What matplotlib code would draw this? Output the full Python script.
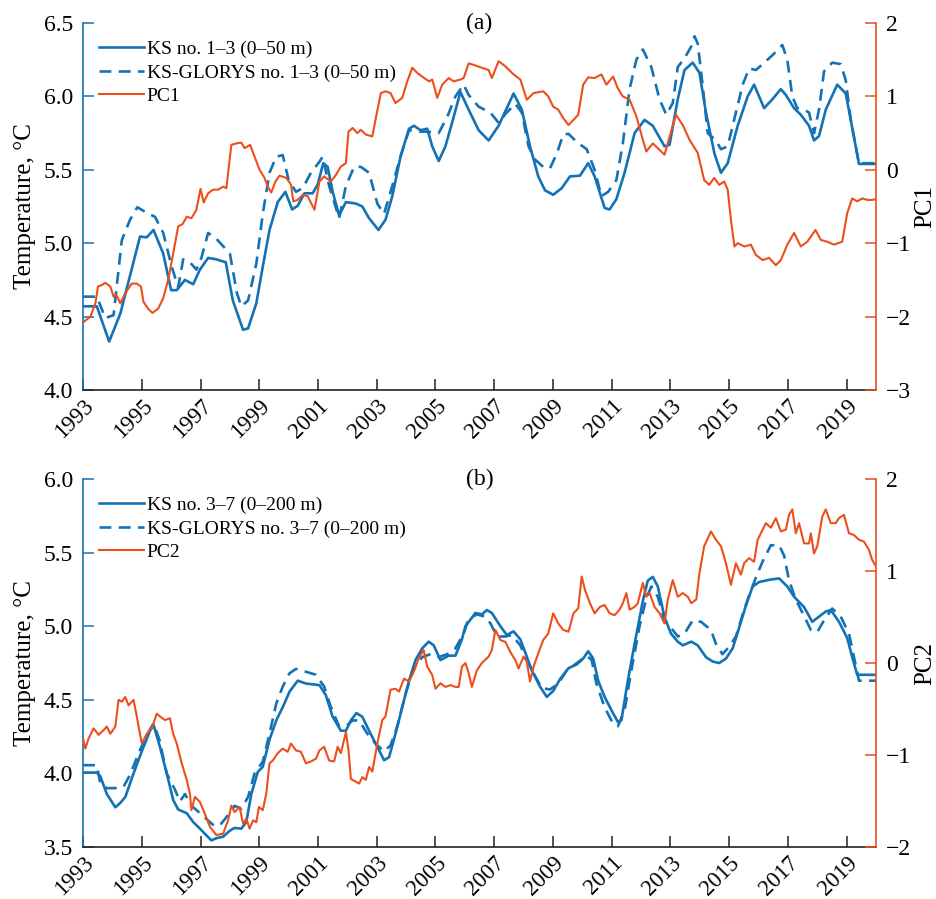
import matplotlib
matplotlib.use("Agg")
import matplotlib.pyplot as plt
import numpy as np

plt.rcParams['font.family'] = ['Liberation Serif', 'DejaVu Serif']
plt.rcParams['mathtext.fontset'] = 'stix'

BLUE = '#1372B6'
RED = '#EC4E1C'

# ---------------- Panel (a) data: (year, value) ----------------
ks_a = [(1993.0, 4.57), (1993.47, 4.57), (1993.89, 4.33), (1994.27, 4.52), (1994.94, 5.045), (1995.17, 5.04),
        (1995.4, 5.09), (1995.73, 4.93), (1996.0, 4.68), (1996.19, 4.68), (1996.47, 4.75), (1996.75, 4.72),
        (1996.98, 4.82), (1997.26, 4.9), (1997.54, 4.89), (1997.86, 4.87), (1998.1, 4.61), (1998.45, 4.41),
        (1998.62, 4.42), (1998.9, 4.59), (1999.12, 4.84), (1999.35, 5.09), (1999.63, 5.28), (1999.89, 5.35),
        (2000.12, 5.23), (2000.31, 5.255), (2000.54, 5.34), (2000.82, 5.34), (2000.99, 5.40), (2001.18, 5.545),
        (2001.33, 5.52), (2001.5, 5.35), (2001.72, 5.19), (2001.95, 5.28), (2002.29, 5.27), (2002.51, 5.25),
        (2002.74, 5.17), (2003.06, 5.09), (2003.3, 5.16), (2003.53, 5.32), (2003.81, 5.59), (2004.1, 5.78),
        (2004.27, 5.80), (2004.49, 5.77), (2004.72, 5.78), (2004.89, 5.66), (2005.11, 5.56), (2005.34, 5.66),
        (2005.62, 5.86), (2005.85, 6.03), (2006.13, 5.91), (2006.47, 5.77), (2006.81, 5.70), (2007.15, 5.80),
        (2007.66, 6.02), (2007.94, 5.91), (2008.22, 5.66), (2008.5, 5.455), (2008.73, 5.36), (2009.01, 5.33),
        (2009.3, 5.375), (2009.58, 5.455), (2009.92, 5.46), (2010.2, 5.545), (2010.42, 5.455), (2010.76, 5.24),
        (2010.93, 5.23), (2011.16, 5.30), (2011.44, 5.48), (2011.78, 5.75), (2012.12, 5.84), (2012.4, 5.80),
        (2012.8, 5.66), (2012.97, 5.67), (2013.25, 5.98), (2013.48, 6.18), (2013.76, 6.23), (2013.99, 6.16),
        (2014.21, 5.89), (2014.5, 5.61), (2014.72, 5.48), (2014.95, 5.545), (2015.29, 5.80), (2015.63, 6.0),
        (2015.85, 6.08), (2016.19, 5.92), (2016.47, 5.98), (2016.76, 6.05), (2016.93, 6.01), (2017.21, 5.92),
        (2017.44, 5.875), (2017.72, 5.80), (2017.89, 5.70), (2018.06, 5.73), (2018.29, 5.91), (2018.68, 6.08),
        (2018.97, 6.02), (2019.14, 5.84), (2019.42, 5.54), (2020.0, 5.54)]

glorys_a = [(1993.0, 4.636), (1993.47, 4.636), (1993.76, 4.49), (1994.04, 4.51), (1994.32, 5.02), (1994.6, 5.16),
            (1994.85, 5.245), (1995.23, 5.20), (1995.45, 5.18), (1995.73, 5.07), (1996.02, 4.84), (1996.24, 4.70),
            (1996.41, 4.89), (1996.64, 4.87), (1996.86, 4.82), (1997.03, 4.90), (1997.26, 5.07), (1997.54, 5.03),
            (1998.0, 4.93), (1998.24, 4.66), (1998.39, 4.57), (1998.62, 4.61), (1998.9, 4.86), (1999.12, 5.20),
            (1999.35, 5.48), (1999.58, 5.59), (1999.8, 5.60), (2000.0, 5.43), (2000.25, 5.35), (2000.48, 5.375),
            (2000.76, 5.48), (2001.05, 5.555), (2001.16, 5.59), (2001.38, 5.39), (2001.72, 5.17), (2001.95, 5.39),
            (2002.23, 5.52), (2002.46, 5.52), (2002.74, 5.48), (2003.02, 5.27), (2003.25, 5.20), (2003.53, 5.39),
            (2003.81, 5.59), (2004.1, 5.77), (2004.44, 5.76), (2004.72, 5.76), (2005.11, 5.75), (2005.4, 5.86),
            (2005.68, 6.0), (2005.96, 6.08), (2006.13, 6.01), (2006.47, 5.93), (2006.87, 5.89), (2007.15, 5.82),
            (2007.38, 5.88), (2007.72, 5.95), (2007.94, 5.89), (2008.17, 5.66), (2008.39, 5.57), (2008.67, 5.52),
            (2008.9, 5.51), (2009.13, 5.61), (2009.35, 5.74), (2009.53, 5.745), (2009.81, 5.69), (2010.15, 5.64),
            (2010.42, 5.50), (2010.65, 5.32), (2010.88, 5.35), (2011.16, 5.43), (2011.38, 5.68), (2011.61, 6.05),
            (2011.84, 6.25), (2012.06, 6.32), (2012.35, 6.20), (2012.63, 5.98), (2012.86, 5.875), (2013.08, 5.955),
            (2013.25, 6.20), (2013.48, 6.26), (2013.71, 6.34), (2013.82, 6.41), (2013.93, 6.36), (2014.1, 6.07),
            (2014.27, 5.75), (2014.55, 5.70), (2014.72, 5.64), (2014.95, 5.66), (2015.23, 5.89), (2015.46, 6.08),
            (2015.68, 6.19), (2015.91, 6.18), (2016.14, 6.22), (2016.47, 6.28), (2016.81, 6.35), (2016.98, 6.25),
            (2017.15, 6.0), (2017.32, 5.92), (2017.55, 5.91), (2017.72, 5.89), (2017.89, 5.75), (2018.06, 5.91),
            (2018.23, 6.17), (2018.51, 6.23), (2018.8, 6.22), (2018.97, 6.11), (2019.14, 5.84), (2019.42, 5.545),
            (2020.0, 5.545)]

pc1 = [(1993.0, -2.08), (1993.25, -2.0), (1993.42, -1.82), (1993.51, -1.59), (1993.64, -1.57), (1993.76, -1.54),
       (1993.93, -1.59), (1994.04, -1.73), (1994.13, -1.70), (1994.27, -1.82), (1994.44, -1.68), (1994.66, -1.55),
       (1994.83, -1.55), (1994.97, -1.59), (1995.06, -1.80), (1995.23, -1.9), (1995.37, -1.95), (1995.56, -1.89),
       (1995.73, -1.75), (1995.9, -1.5), (1996.07, -1.14), (1996.24, -0.77), (1996.39, -0.74), (1996.53, -0.64),
       (1996.69, -0.66), (1996.86, -0.545), (1997.0, -0.26), (1997.11, -0.445), (1997.26, -0.32), (1997.43, -0.27),
       (1997.6, -0.27), (1997.77, -0.23), (1997.88, -0.25), (1998.05, 0.34), (1998.22, 0.36), (1998.39, 0.37),
       (1998.5, 0.295), (1998.69, 0.34), (1998.84, 0.18), (1999.01, 0.0), (1999.18, -0.11), (1999.29, -0.23),
       (1999.41, -0.31), (1999.55, -0.16), (1999.69, -0.08), (1999.92, -0.11), (2000.08, -0.2), (2000.16, -0.43),
       (2000.31, -0.41), (2000.48, -0.34), (2000.65, -0.36), (2000.88, -0.545), (2001.05, -0.16), (2001.21, -0.09),
       (2001.44, -0.16), (2001.61, -0.07), (2001.78, 0.045), (2001.95, 0.09), (2002.04, 0.52), (2002.18, 0.57),
       (2002.34, 0.5), (2002.46, 0.545), (2002.63, 0.48), (2002.85, 0.455), (2002.97, 0.705), (2003.14, 1.045),
       (2003.3, 1.07), (2003.47, 1.045), (2003.64, 0.91), (2003.87, 0.98), (2004.04, 1.205), (2004.21, 1.39),
       (2004.38, 1.32), (2004.55, 1.27), (2004.78, 1.205), (2004.89, 1.23), (2005.06, 0.98), (2005.23, 1.16),
       (2005.45, 1.25), (2005.62, 1.205), (2005.85, 1.23), (2005.96, 1.25), (2006.13, 1.45), (2006.3, 1.43),
       (2006.58, 1.39), (2006.81, 1.36), (2006.92, 1.25), (2007.15, 1.48), (2007.38, 1.41), (2007.66, 1.30),
       (2007.89, 1.23), (2008.11, 0.955), (2008.34, 1.045), (2008.67, 1.07), (2008.84, 1.0), (2009.01, 0.86),
       (2009.18, 0.82), (2009.35, 0.705), (2009.53, 0.61), (2009.7, 0.68), (2009.86, 0.75), (2010.03, 1.16),
       (2010.2, 1.26), (2010.42, 1.25), (2010.65, 1.30), (2010.82, 1.16), (2011.05, 1.27), (2011.21, 1.11),
       (2011.38, 1.0), (2011.61, 0.955), (2011.84, 0.73), (2012.06, 0.41), (2012.18, 0.25), (2012.4, 0.36),
       (2012.57, 0.295), (2012.8, 0.205), (2013.02, 0.52), (2013.19, 0.75), (2013.42, 0.61), (2013.65, 0.41),
       (2013.93, 0.23), (2014.15, -0.14), (2014.32, -0.205), (2014.49, -0.11), (2014.66, -0.205), (2014.83, -0.16),
       (2014.95, -0.27), (2015.06, -0.68), (2015.18, -1.045), (2015.29, -1.0), (2015.52, -1.045), (2015.74, -1.02),
       (2015.91, -1.16), (2016.14, -1.23), (2016.36, -1.2), (2016.59, -1.30), (2016.76, -1.23), (2016.98, -1.02),
       (2017.21, -0.86), (2017.44, -1.045), (2017.66, -0.98), (2017.94, -0.82), (2018.12, -0.955), (2018.34, -0.98),
       (2018.57, -1.02), (2018.85, -0.98), (2019.02, -0.59), (2019.19, -0.39), (2019.36, -0.43), (2019.53, -0.39),
       (2019.7, -0.41), (2019.87, -0.41), (2020.0, -0.40)]

# ---------------- Panel (b) data: (year, value) ----------------
ks_b = [(1993.0, 4.006), (1993.47, 4.006), (1993.59, 3.98), (1993.81, 3.86), (1994.1, 3.77), (1994.27, 3.80),
        (1994.44, 3.84), (1994.72, 4.0), (1995.0, 4.15), (1995.28, 4.29), (1995.4, 4.33), (1995.62, 4.18),
        (1995.85, 4.0), (1996.07, 3.82), (1996.24, 3.755), (1996.53, 3.73), (1996.75, 3.67), (1996.98, 3.625),
        (1997.15, 3.59), (1997.37, 3.545), (1997.54, 3.56), (1997.77, 3.57), (1997.99, 3.61), (1998.16, 3.63),
        (1998.39, 3.625), (1998.56, 3.67), (1998.73, 3.86), (1998.95, 4.01), (1999.12, 4.045), (1999.35, 4.23),
        (1999.58, 4.36), (1999.8, 4.45), (2000.03, 4.555), (2000.31, 4.63), (2000.6, 4.61), (2001.05, 4.60),
        (2001.27, 4.53), (2001.5, 4.385), (2001.78, 4.29), (2001.95, 4.29), (2002.12, 4.36), (2002.31, 4.41),
        (2002.51, 4.385), (2002.74, 4.29), (2003.02, 4.18), (2003.25, 4.09), (2003.42, 4.11), (2003.64, 4.27),
        (2003.87, 4.45), (2004.1, 4.63), (2004.32, 4.77), (2004.55, 4.85), (2004.77, 4.895), (2004.94, 4.87),
        (2005.17, 4.77), (2005.45, 4.80), (2005.68, 4.80), (2005.9, 4.91), (2006.02, 5.0), (2006.36, 5.09),
        (2006.58, 5.08), (2006.75, 5.11), (2006.92, 5.09), (2007.21, 5.0), (2007.43, 4.94), (2007.66, 4.965),
        (2007.89, 4.91), (2008.06, 4.82), (2008.28, 4.70), (2008.56, 4.59), (2008.79, 4.52), (2009.01, 4.56),
        (2009.24, 4.64), (2009.53, 4.715), (2009.81, 4.74), (2010.03, 4.78), (2010.2, 4.83), (2010.37, 4.78),
        (2010.54, 4.63), (2010.76, 4.52), (2010.99, 4.43), (2011.21, 4.35), (2011.33, 4.36), (2011.55, 4.63),
        (2011.78, 4.88), (2012.06, 5.17), (2012.23, 5.31), (2012.4, 5.335), (2012.57, 5.27), (2012.8, 5.06),
        (2013.02, 4.95), (2013.25, 4.895), (2013.42, 4.87), (2013.71, 4.895), (2013.93, 4.87), (2014.21, 4.79),
        (2014.44, 4.76), (2014.66, 4.75), (2014.89, 4.78), (2015.12, 4.85), (2015.34, 4.99), (2015.57, 5.14),
        (2015.8, 5.27), (2016.02, 5.30), (2016.36, 5.315), (2016.7, 5.325), (2016.98, 5.27), (2017.21, 5.20),
        (2017.55, 5.13), (2017.83, 5.03), (2018.06, 5.065), (2018.29, 5.10), (2018.46, 5.11), (2018.74, 5.03),
        (2019.02, 4.92), (2019.19, 4.79), (2019.36, 4.67), (2020.0, 4.67)]

glorys_b = [(1993.0, 4.056), (1993.47, 4.056), (1993.59, 3.93), (1993.81, 3.90), (1994.1, 3.90), (1994.38, 3.91),
            (1994.6, 3.99), (1994.94, 4.16), (1995.23, 4.28), (1995.4, 4.34), (1995.6, 4.23), (1995.85, 4.0),
            (1996.13, 3.89), (1996.3, 3.81), (1996.47, 3.86), (1996.7, 3.78), (1996.98, 3.73), (1997.26, 3.68),
            (1997.49, 3.64), (1997.71, 3.66), (1997.99, 3.73), (1998.16, 3.78), (1998.39, 3.76), (1998.62, 3.84),
            (1998.84, 4.0), (1999.12, 4.08), (1999.35, 4.27), (1999.58, 4.475), (1999.8, 4.59), (2000.03, 4.68),
            (2000.25, 4.71), (2000.6, 4.69), (2000.93, 4.67), (2001.21, 4.59), (2001.44, 4.45), (2001.72, 4.32),
            (2001.95, 4.32), (2002.18, 4.36), (2002.4, 4.36), (2002.68, 4.27), (2002.97, 4.20), (2003.25, 4.15),
            (2003.47, 4.19), (2003.7, 4.32), (2003.98, 4.54), (2004.27, 4.72), (2004.55, 4.79), (2004.83, 4.81),
            (2005.11, 4.79), (2005.4, 4.81), (2005.68, 4.85), (2005.96, 4.95), (2006.13, 5.05), (2006.41, 5.08),
            (2006.7, 5.065), (2006.87, 5.02), (2007.1, 4.93), (2007.38, 4.93), (2007.6, 4.94), (2007.89, 4.87),
            (2008.11, 4.77), (2008.34, 4.68), (2008.62, 4.58), (2008.9, 4.57), (2009.18, 4.61), (2009.47, 4.70),
            (2009.75, 4.74), (2010.15, 4.80), (2010.32, 4.77), (2010.48, 4.61), (2010.76, 4.45), (2010.99, 4.36),
            (2011.21, 4.32), (2011.44, 4.43), (2011.67, 4.70), (2011.95, 5.0), (2012.18, 5.19), (2012.35, 5.27),
            (2012.57, 5.20), (2012.8, 5.04), (2013.02, 4.99), (2013.25, 4.93), (2013.48, 4.95), (2013.76, 5.04),
            (2014.04, 5.03), (2014.38, 4.975), (2014.55, 4.88), (2014.77, 4.81), (2015.0, 4.86), (2015.23, 4.93),
            (2015.46, 5.08), (2015.68, 5.21), (2015.91, 5.33), (2016.14, 5.44), (2016.42, 5.55), (2016.7, 5.55),
            (2016.87, 5.48), (2017.04, 5.31), (2017.27, 5.18), (2017.55, 5.07), (2017.78, 4.975), (2018.0, 4.96),
            (2018.23, 5.04), (2018.51, 5.12), (2018.8, 5.065), (2019.08, 4.95), (2019.25, 4.79), (2019.42, 4.63),
            (2020.0, 4.63)]

pc2 = [(1993.0, -0.82), (1993.08, -0.93), (1993.19, -0.82), (1993.36, -0.71), (1993.53, -0.78), (1993.7, -0.73),
       (1993.81, -0.69), (1993.93, -0.77), (1994.1, -0.69), (1994.21, -0.40), (1994.32, -0.42), (1994.44, -0.37),
       (1994.55, -0.46), (1994.72, -0.40), (1994.83, -0.58), (1995.0, -0.875), (1995.17, -0.77), (1995.34, -0.71),
       (1995.51, -0.55), (1995.62, -0.58), (1995.79, -0.62), (1995.96, -0.60), (1996.07, -0.77), (1996.19, -0.875),
       (1996.36, -1.09), (1996.53, -1.27), (1996.64, -1.42), (1996.69, -1.60), (1996.81, -1.455), (1996.98, -1.51),
       (1997.15, -1.64), (1997.32, -1.78), (1997.54, -1.87), (1997.77, -1.855), (1997.94, -1.71), (1998.05, -1.55),
       (1998.16, -1.62), (1998.33, -1.565), (1998.45, -1.745), (1998.56, -1.69), (1998.67, -1.80), (1998.79, -1.71),
       (1998.9, -1.73), (1998.99, -1.565), (1999.12, -1.60), (1999.24, -1.42), (1999.35, -1.09), (1999.46, -1.06),
       (1999.63, -0.98), (1999.8, -0.93), (1999.97, -0.965), (2000.08, -0.875), (2000.25, -0.95), (2000.42, -0.965),
       (2000.59, -1.09), (2000.76, -1.07), (2000.93, -1.04), (2001.05, -0.95), (2001.21, -0.91), (2001.38, -1.06),
       (2001.55, -1.07), (2001.67, -0.91), (2001.78, -0.98), (2001.95, -0.75), (2002.04, -0.95), (2002.12, -1.26),
       (2002.29, -1.29), (2002.4, -1.31), (2002.51, -1.24), (2002.63, -1.27), (2002.74, -1.13), (2002.85, -1.18),
       (2003.02, -0.875), (2003.19, -0.62), (2003.3, -0.58), (2003.47, -0.29), (2003.64, -0.28), (2003.76, -0.31),
       (2003.93, -0.17), (2004.1, -0.20), (2004.27, -0.09), (2004.43, 0.05), (2004.6, 0.14), (2004.72, -0.04),
       (2004.89, -0.13), (2005.0, -0.28), (2005.17, -0.22), (2005.34, -0.26), (2005.51, -0.24), (2005.68, -0.26),
       (2005.79, -0.26), (2005.9, -0.04), (2006.02, 0.0), (2006.13, -0.11), (2006.24, -0.26), (2006.41, -0.08),
       (2006.58, 0.0), (2006.81, 0.07), (2006.92, 0.14), (2007.04, 0.36), (2007.21, 0.25), (2007.38, 0.23),
       (2007.55, 0.12), (2007.72, 0.03), (2007.83, -0.06), (2008.0, 0.07), (2008.11, 0.015), (2008.22, -0.20),
       (2008.34, -0.04), (2008.5, 0.105), (2008.67, 0.25), (2008.84, 0.32), (2009.01, 0.54), (2009.18, 0.43),
       (2009.35, 0.36), (2009.53, 0.34), (2009.7, 0.54), (2009.86, 0.595), (2009.98, 0.94), (2010.09, 0.795),
       (2010.26, 0.65), (2010.42, 0.54), (2010.6, 0.61), (2010.76, 0.63), (2010.93, 0.54), (2011.1, 0.52),
       (2011.27, 0.58), (2011.38, 0.65), (2011.5, 0.76), (2011.61, 0.58), (2011.78, 0.61), (2011.89, 0.65),
       (2012.06, 0.87), (2012.18, 0.72), (2012.29, 0.76), (2012.46, 0.61), (2012.63, 0.54), (2012.8, 0.43),
       (2012.91, 0.69), (2013.08, 0.90), (2013.25, 0.72), (2013.42, 0.76), (2013.59, 0.72), (2013.71, 0.65),
       (2013.88, 0.69), (2013.99, 0.98), (2014.15, 1.27), (2014.38, 1.43), (2014.55, 1.34), (2014.72, 1.27),
       (2014.89, 1.085), (2015.06, 0.85), (2015.23, 1.085), (2015.4, 0.96), (2015.51, 1.085), (2015.68, 1.14),
       (2015.85, 1.10), (2015.97, 1.34), (2016.14, 1.45), (2016.25, 1.52), (2016.42, 1.47), (2016.59, 1.575),
       (2016.76, 1.43), (2016.93, 1.45), (2017.04, 1.61), (2017.15, 1.67), (2017.27, 1.41), (2017.38, 1.52),
       (2017.55, 1.30), (2017.72, 1.30), (2017.78, 1.41), (2017.89, 1.19), (2018.0, 1.27), (2018.17, 1.59),
       (2018.29, 1.67), (2018.46, 1.52), (2018.63, 1.52), (2018.74, 1.575), (2018.91, 1.61), (2019.08, 1.41),
       (2019.25, 1.39), (2019.42, 1.34), (2019.59, 1.32), (2019.76, 1.23), (2019.87, 1.12), (2020.0, 1.05)]

year_ticks = list(range(1993, 2020, 2))
panels = [
    dict(ks=ks_a, gl=glorys_a, pc=pc1, tlim=(4.0, 6.5), tticks=[4.0, 4.5, 5.0, 5.5, 6.0, 6.5],
         plim=(-3, 2), pticks=[-3, -2, -1, 0, 1, 2], pclabel='PC1', tag='(a)',
         labels=['KS no. 1–3 (0–50 m)', 'KS-GLORYS no. 1–3 (0–50 m)', 'PC1'],
         rect=[0.0887, 0.5662, 0.8472, 0.4082]),
    dict(ks=ks_b, gl=glorys_b, pc=pc2, tlim=(3.5, 6.0), tticks=[3.5, 4.0, 4.5, 5.0, 5.5, 6.0],
         plim=(-2, 2), pticks=[-2, -1, 0, 1, 2], pclabel='PC2', tag='(b)',
         labels=['KS no. 3–7 (0–200 m)', 'KS-GLORYS no. 3–7 (0–200 m)', 'PC2'],
         rect=[0.0887, 0.0578, 0.8472, 0.4094]),
]

fig = plt.figure(figsize=(9.36, 8.99), dpi=100)
TICK_FS = 17
for p in panels:
    ax = fig.add_axes(p['rect'])
    ax2 = ax.twinx()
    t, v = zip(*p['ks'])
    l1, = ax.plot(t, v, color=BLUE, lw=1.9, label=p['labels'][0])
    t, v = zip(*p['gl'])
    l2, = ax.plot(t, v, color=BLUE, lw=1.9, ls=(0, (4.5, 2.8)), label=p['labels'][1])
    t, v = zip(*p['pc'])
    l3, = ax2.plot(t, v, color=RED, lw=1.5, label=p['labels'][2])

    ax.set_xlim(1993, 2020)
    ax.set_ylim(*p['tlim'])
    ax2.set_ylim(*p['plim'])
    ax.set_yticks(p['tticks'])
    ax.set_yticklabels([f'{x:.1f}' for x in p['tticks']])
    ax2.set_yticks(p['pticks'])
    ax2.set_yticklabels([('\u2212' + str(abs(x))) if x < 0 else str(x) for x in p['pticks']])
    ax.set_xticks(year_ticks)
    ax.set_xticklabels([str(y) for y in year_ticks], rotation=45, ha='right', va='top',
                       rotation_mode='anchor')

    for s in ['top', 'right']:
        ax.spines[s].set_visible(False)
    for s in ['top', 'left', 'bottom']:
        ax2.spines[s].set_visible(False)
    ax.spines['left'].set_color(BLUE)
    ax.spines['bottom'].set_color('#222222')
    ax2.spines['right'].set_color(RED)
    for a in (ax, ax2):
        for s in a.spines.values():
            s.set_linewidth(1.2)

    ax.tick_params(axis='x', direction='in', length=8, width=1.1, color='#222222',
                   labelsize=16.5, pad=4)
    ax.tick_params(axis='y', direction='in', length=8, width=1.1, color=BLUE,
                   labelsize=TICK_FS, pad=7)
    ax2.tick_params(axis='y', direction='in', length=8, width=1.1, color=RED,
                    labelsize=TICK_FS, pad=7)

    ax.set_ylabel('Temperature, °C', fontsize=TICK_FS + 1, labelpad=6)
    ax2.set_ylabel(p['pclabel'], fontsize=TICK_FS + 1, labelpad=2)

    ax2.text(0.5, 1.0, p['tag'], transform=ax.transAxes, ha='center', va='center',
             fontsize=TICK_FS)

    ax2.legend(handles=[l1, l2, l3], loc='upper left', bbox_to_anchor=(0.02, 0.952),
               frameon=False, fontsize=14, handlelength=2.3, handletextpad=0.15,
               labelspacing=0.3, borderpad=0, borderaxespad=0)

fig.savefig('out.png', dpi=100)
